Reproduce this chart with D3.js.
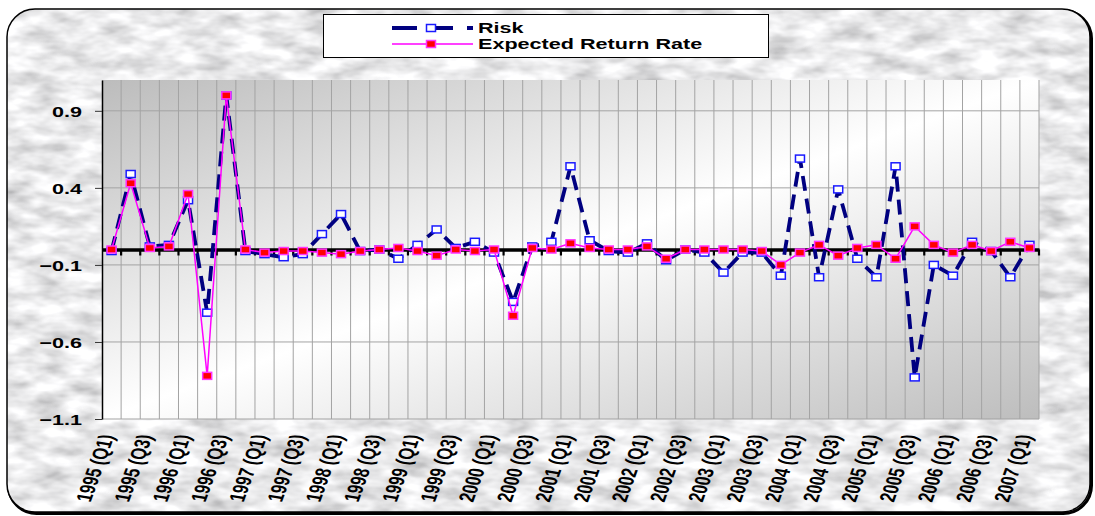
<!DOCTYPE html>
<html>
<head>
<meta charset="utf-8">
<script src="https://cdn.jsdelivr.net/npm/d3@7"></script>
<style>
  body { margin: 0; background: #fff; }
  svg { display: block; }
  text { font-family: "Liberation Sans", Arial, sans-serif; font-weight: bold; fill: #000; }
</style>
</head>
<body>
<svg id="chart"></svg>
<script>
// quarters 1995 (Q1) .. 2007 (Q1)
const quarters = [
  '1995 (Q1)', '1995 (Q2)', '1995 (Q3)', '1995 (Q4)',
  '1996 (Q1)', '1996 (Q2)', '1996 (Q3)', '1996 (Q4)',
  '1997 (Q1)', '1997 (Q2)', '1997 (Q3)', '1997 (Q4)',
  '1998 (Q1)', '1998 (Q2)', '1998 (Q3)', '1998 (Q4)',
  '1999 (Q1)', '1999 (Q2)', '1999 (Q3)', '1999 (Q4)',
  '2000 (Q1)', '2000 (Q2)', '2000 (Q3)', '2000 (Q4)',
  '2001 (Q1)', '2001 (Q2)', '2001 (Q3)', '2001 (Q4)',
  '2002 (Q1)', '2002 (Q2)', '2002 (Q3)', '2002 (Q4)',
  '2003 (Q1)', '2003 (Q2)', '2003 (Q3)', '2003 (Q4)',
  '2004 (Q1)', '2004 (Q2)', '2004 (Q3)', '2004 (Q4)',
  '2005 (Q1)', '2005 (Q2)', '2005 (Q3)', '2005 (Q4)',
  '2006 (Q1)', '2006 (Q2)', '2006 (Q3)', '2006 (Q4)',
  '2007 (Q1)'
];

// only every other quarter gets a label
const tickLabels = quarters.filter((q, i) => i % 2 === 0);

const risk = [
  -0.01, 0.49, 0.02, 0.03, 0.32, -0.41, 1.00, -0.01,
  -0.03, -0.05, -0.03, 0.10, 0.23, -0.01, 0.00, -0.06,
  0.03, 0.13, 0.01, 0.05, -0.02, -0.34, 0.02, 0.05,
  0.54, 0.06, -0.01, -0.02, 0.04, -0.07, 0.00, -0.02,
  -0.15, -0.02, -0.02, -0.17, 0.59, -0.18, 0.39, -0.06,
  -0.18, 0.54, -0.83, -0.10, -0.17, 0.05, -0.01, -0.18,
  0.03
];

const expectedReturn = [
  0.00, 0.43, 0.01, 0.02, 0.36, -0.82, 1.00, 0.00,
  -0.02, -0.01, -0.01, -0.02, -0.03, -0.01, 0.00, 0.01,
  -0.01, -0.04, 0.00, -0.01, 0.00, -0.43, 0.01, 0.00,
  0.04, 0.01, 0.00, 0.00, 0.02, -0.06, 0.00, 0.00,
  0.00, 0.00, -0.01, -0.10, -0.02, 0.03, -0.04, 0.01,
  0.03, -0.06, 0.15, 0.03, -0.02, 0.03, -0.01, 0.05,
  0.01
];

const yTicks = [0.9, 0.4, -0.1, -0.6, -1.1];

const seriesNames = ['Risk', 'Expected Return Rate'];

const width = 1095;
const height = 516;
const plot = { left: 102, right: 1039, top: 80, bottom: 419 };
const stretch = 1.44; // the original picture is stretched sideways

const svg = d3.select('#chart')
  .attr('width', width)
  .attr('height', height);

const defs = svg.append('defs');

// marble-ish backdrop
const marble = defs.append('filter')
  .attr('id', 'marble')
  .attr('x', 0).attr('y', 0).attr('width', 1).attr('height', 1);
marble.append('feTurbulence')
  .attr('type', 'fractalNoise')
  .attr('baseFrequency', '0.03 0.07')
  .attr('numOctaves', 3)
  .attr('seed', 7);
marble.append('feColorMatrix')
  .attr('type', 'matrix')
  .attr('values', '0.85 0 0 0 0.4  0.85 0 0 0 0.4  0.85 0 0 0 0.41  0 0 0 0 1');
marble.append('feComposite')
  .attr('in2', 'SourceGraphic')
  .attr('operator', 'in');

const plotGrad = defs.append('linearGradient')
  .attr('id', 'plotGrad')
  .attr('x1', 0).attr('y1', 0).attr('x2', 1).attr('y2', 1);
plotGrad.append('stop').attr('offset', '0%').attr('stop-color', '#bcbcbc');
plotGrad.append('stop').attr('offset', '50%').attr('stop-color', '#ffffff');
plotGrad.append('stop').attr('offset', '100%').attr('stop-color', '#bdbdbd');

// frame, with a little shadow bottom right
svg.append('rect')
  .attr('x', 8.5).attr('y', 10.5)
  .attr('width', 1083).attr('height', 503)
  .attr('rx', 28)
  .attr('fill', 'none')
  .attr('stroke', '#000')
  .attr('stroke-width', 3);

svg.append('rect')
  .attr('x', 7).attr('y', 9)
  .attr('width', 1083).attr('height', 503)
  .attr('rx', 28)
  .attr('fill', '#d2d2d2')
  .attr('filter', 'url(#marble)');

svg.append('rect')
  .attr('x', 7).attr('y', 9)
  .attr('width', 1083).attr('height', 503)
  .attr('rx', 28)
  .attr('fill', 'none')
  .attr('stroke', '#000')
  .attr('stroke-width', 1.5);

const x = d3.scaleBand()
  .domain(quarters)
  .range([plot.left, plot.right])
  .padding(0);

const y = d3.scaleLinear()
  .domain([-1.1, 1.1])
  .range([plot.bottom, plot.top]);

const cx = q => x(q) + x.bandwidth() / 2;

// plot area
svg.append('rect')
  .attr('x', plot.left).attr('y', plot.top)
  .attr('width', plot.right - plot.left)
  .attr('height', plot.bottom - plot.top)
  .attr('fill', 'url(#plotGrad)');

const grid = svg.append('g').attr('stroke', '#a3a3a3').attr('stroke-width', 1);

grid.selectAll('.vgrid')
  .data(quarters.slice(1).concat(['end']))
  .enter().append('line')
  .attr('class', 'vgrid')
  .attr('x1', d => d === 'end' ? plot.right : x(d))
  .attr('x2', d => d === 'end' ? plot.right : x(d))
  .attr('y1', plot.top)
  .attr('y2', plot.bottom);

grid.selectAll('.hgrid')
  .data(yTicks)
  .enter().append('line')
  .attr('class', 'hgrid')
  .attr('x1', plot.left)
  .attr('x2', plot.right)
  .attr('y1', d => y(d))
  .attr('y2', d => y(d));

// y axis
const yAxis = svg.append('g')
  .attr('transform', `translate(${plot.left},0)`)
  .call(d3.axisLeft(y).tickValues(yTicks).tickSize(7).tickSizeOuter(0).tickFormat(d3.format('.1f')));
yAxis.select('.domain').attr('stroke', '#000').attr('stroke-width', 1.5);
yAxis.selectAll('.tick line').attr('stroke', '#333');
yAxis.selectAll('.tick text').remove();

yAxis.selectAll('.tick')
  .append('g')
  .attr('transform', `translate(-20,0) scale(${stretch},1)`)
  .append('text')
  .attr('text-anchor', 'end')
  .attr('dy', '0.36em')
  .attr('font-size', 15)
  .attr('fill', '#000')
  .text(d => d3.format('.1f')(d));

// zero line with tick marks
const zeroAxis = svg.append('g')
  .attr('transform', `translate(0,${y(0)})`)
  .call(d3.axisBottom(x).tickValues([]).tickSizeOuter(0));
zeroAxis.select('.domain').attr('stroke', '#000').attr('stroke-width', 3.5);

zeroAxis.selectAll('.zt')
  .data(quarters.slice(1).concat(['end']))
  .enter().append('line')
  .attr('class', 'zt')
  .attr('x1', d => d === 'end' ? plot.right : x(d))
  .attr('x2', d => d === 'end' ? plot.right : x(d))
  .attr('y1', 0)
  .attr('y2', 6)
  .attr('stroke', '#000')
  .attr('stroke-width', 2.2);

// x labels
svg.append('g').selectAll('.xl')
  .data(tickLabels)
  .enter().append('g')
  .attr('class', 'xl')
  .attr('transform', d => `translate(${cx(d) + 3},${plot.bottom + 17}) scale(${stretch},1) rotate(-76)`)
  .append('text')
  .attr('text-anchor', 'end')
  .attr('font-size', 15.3)
  .text(d => d);

// series
const line = d3.line()
  .x((d, i) => cx(quarters[i]))
  .y(d => y(d));

svg.append('path')
  .datum(risk)
  .attr('d', line)
  .attr('fill', 'none')
  .attr('stroke', '#000080')
  .attr('stroke-width', 3.8)
  .attr('stroke-dasharray', '15,8');

svg.append('g').selectAll('.rm')
  .data(risk)
  .enter().append('rect')
  .attr('class', 'rm')
  .attr('x', (d, i) => cx(quarters[i]) - 4.5)
  .attr('y', d => y(d) - 3.5)
  .attr('width', 9)
  .attr('height', 7)
  .attr('fill', '#fff')
  .attr('stroke', '#1a1aff')
  .attr('stroke-width', 1.5);

svg.append('path')
  .datum(expectedReturn)
  .attr('d', line)
  .attr('fill', 'none')
  .attr('stroke', '#ff00ff')
  .attr('stroke-width', 1.5);

svg.append('g').selectAll('.em')
  .data(expectedReturn)
  .enter().append('rect')
  .attr('class', 'em')
  .attr('x', (d, i) => cx(quarters[i]) - 4.5)
  .attr('y', d => y(d) - 3.5)
  .attr('width', 9)
  .attr('height', 7)
  .attr('fill', '#ff0000')
  .attr('stroke', '#ff33ff')
  .attr('stroke-width', 1.5);

// legend
const legend = svg.append('g');
legend.append('rect')
  .attr('x', 323.5).attr('y', 14.5)
  .attr('width', 445).attr('height', 43)
  .attr('fill', '#fff')
  .attr('stroke', '#000')
  .attr('stroke-width', 1);

const legendRows = legend.selectAll('.lr')
  .data(seriesNames)
  .enter().append('g')
  .attr('class', 'lr')
  .attr('transform', (d, i) => `translate(0,${28 + i * 16})`);

legendRows.append('line')
  .attr('x1', 392).attr('x2', 473)
  .attr('stroke', (d, i) => i === 0 ? '#000080' : '#ff00ff')
  .attr('stroke-width', (d, i) => i === 0 ? 3.8 : 1.5)
  .attr('stroke-dasharray', (d, i) => i === 0 ? '25,18,18,14' : null);

legendRows.append('rect')
  .attr('x', 426.5).attr('y', -3.5)
  .attr('width', 9).attr('height', 7)
  .attr('fill', (d, i) => i === 0 ? '#fff' : '#ff0000')
  .attr('stroke', (d, i) => i === 0 ? '#1a1aff' : '#ff33ff')
  .attr('stroke-width', 1.5);

legendRows.append('g')
  .attr('transform', `translate(478,0) scale(${stretch},1)`)
  .append('text')
  .attr('dy', '0.36em')
  .attr('font-size', 15)
  .text(d => d);
</script>
</body>
</html>
